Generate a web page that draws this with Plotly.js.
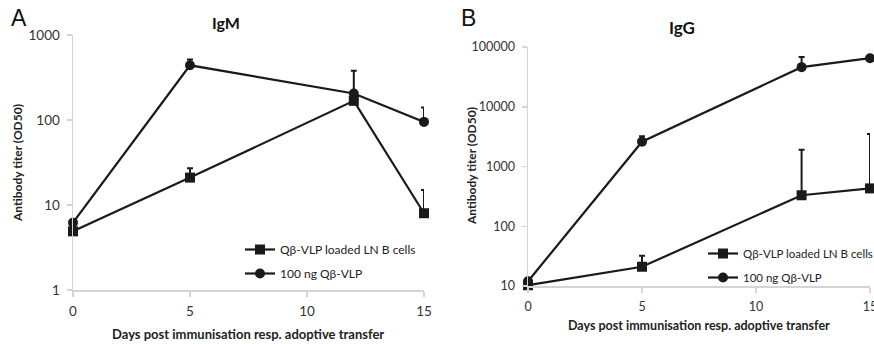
<!DOCTYPE html>
<html>
<head>
<meta charset="utf-8">
<script src="https://cdn.plot.ly/plotly-3.0.1.min.js"></script>
<style>html,body{margin:0;padding:0;background:#fff;overflow:hidden;width:874px;height:344px;}#chart{width:874px;height:344px;overflow:hidden;}</style>
</head>
<body>
<div id="chart"></div>
<script>
// Data
const days = [0, 5, 12, 15];
const seriesNames = ["Qβ-VLP loaded LN B cells", "100 ng Qβ-VLP"];
// IgM (panel A)
const igmBcells = [4.9, 21, 168, 8];
const igmBcellsErr = [0, 6, 0, 7];
const igmVlp = [6.2, 440, 205, 95];
const igmVlpErr = [0, 75, 175, 45];
// IgG (panel B)
const iggBcells = [10.3, 21, 330, 430];
const iggBcellsErr = [0, 11, 1570, 3070];
const iggVlp = [12, 2600, 46000, 65000];
const iggVlpErr = [0, 600, 22000, 0];
// Ticks
const xTicks = [0, 5, 10, 15];
const yTicksA = [1, 10, 100, 1000];
const yTicksB = [10, 100, 1000, 10000, 100000];

const ink = '#1a1a1a';
const axisGrey = '#d4d4d4';
const FONT = 'Lato, "Open Sans", sans-serif';

function trace(x, y, err, name, symbol, xa, ya, legend, group) {
  return {
    x: x, y: y, name: name, type: 'scatter', mode: 'lines+markers',
    xaxis: xa, yaxis: ya, legend: legend, legendgroup: group, cliponaxis: false,
    line: {color: ink, width: 2.2},
    marker: {symbol: symbol, size: 10, color: ink},
    error_y: {type: 'data', symmetric: false, array: err, arrayminus: err.map(() => 0),
              color: ink, thickness: 2, width: 3}
  };
}

const data = [
  trace(days, igmBcells, igmBcellsErr, seriesNames[0], 'square', 'x', 'y', 'legend', 'a1'),
  trace(days, igmVlp, igmVlpErr, seriesNames[1], 'circle', 'x', 'y', 'legend', 'a2'),
  trace(days, iggBcells, iggBcellsErr, seriesNames[0], 'square', 'x2', 'y2', 'legend2', 'b1'),
  trace(days, iggVlp, iggVlpErr, seriesNames[1], 'circle', 'x2', 'y2', 'legend2', 'b2')
];

function xAxis(domain, anchor, size) {
  return {
    domain: domain, anchor: anchor, range: [0, 15], tickvals: xTicks,
    automargin: false, ticklabeloverflow: 'allow',
    showline: true, linecolor: axisGrey, linewidth: 1.5,
    ticks: 'outside', ticklen: 5, tickcolor: axisGrey, tickwidth: 1.5,
    showgrid: false, zeroline: false, ticklabelstandoff: 3,
    tickfont: {family: FONT, size: size, color: '#333'}
  };
}
function yAxis(domain, anchor, range, vals, size) {
  return {
    domain: domain, anchor: anchor, type: 'log', range: range,
    tickvals: vals, ticktext: vals.map(String),
    automargin: false,
    showline: true, linecolor: axisGrey, linewidth: 1.5,
    ticks: 'outside', ticklen: 5, tickcolor: axisGrey, tickwidth: 1.5,
    showgrid: false, zeroline: false, ticklabelstandoff: 4,
    tickfont: {family: FONT, size: size, color: '#333'}
  };
}

const legendBase = {
  xanchor: 'left', yanchor: 'top', bgcolor: 'rgba(0,0,0,0)',
  traceorder: 'grouped', tracegroupgap: 5
};

const ann = (text, x, y, opts) => Object.assign({
  text: text, x: x, y: y, xref: 'paper', yref: 'paper',
  showarrow: false, xanchor: 'center', yanchor: 'middle'
}, opts);

const W = 874, H = 344;
const px = v => v / W, py = v => (H - v) / H;

const layout = {
  width: W, height: H, autosize: false,
  margin: {l: 0, r: 0, t: 0, b: 0, autoexpand: false},
  paper_bgcolor: '#fff', plot_bgcolor: '#fff',
  showlegend: true,
  xaxis: xAxis([px(73), px(424)], 'y', 13.5),
  yaxis: yAxis([py(290), py(35)], 'x', [0, 3], yTicksA, 13.5),
  xaxis2: xAxis([px(528), px(870)], 'y2', 12.5),
  yaxis2: yAxis([py(286), py(47)], 'x2', [1, 5], yTicksB, 12.5),
  legend: Object.assign({x: px(240), y: py(235), font: {family: FONT, size: 12, color: '#222'}}, legendBase),
  legend2: Object.assign({x: px(703), y: py(239), font: {family: FONT, size: 11.5, color: '#222'}}, legendBase),
  annotations: [
    ann('A', px(19), py(18), {font: {family: 'Liberation Sans, Arial, sans-serif', size: 23, color: '#111'}}),
    ann('B', px(468), py(18), {font: {family: 'Liberation Sans, Arial, sans-serif', size: 23, color: '#111'}}),
    ann('<b>IgM</b>', px(226), py(22), {font: {family: FONT, size: 16, color: '#111'}}),
    ann('<b>IgG</b>', px(682), py(27), {font: {family: FONT, size: 17, color: '#111'}}),
    ann('<b>Days post immunisation resp. adoptive transfer</b>', px(248), py(334), {font: {family: FONT, size: 13, color: '#222'}}),
    ann('<b>Days post immunisation resp. adoptive transfer</b>', px(699), py(325), {font: {family: FONT, size: 12.5, color: '#222'}}),
    ann('<b>Antibody titer (OD50)</b>', px(18), py(163), {textangle: -90, font: {family: FONT, size: 12, color: '#222'}}),
    ann('<b>Antibody titer (OD50)</b>', px(471), py(166), {textangle: -90, font: {family: FONT, size: 12, color: '#222'}})
  ]
};

Plotly.newPlot('chart', data, layout, {displayModeBar: false, staticPlot: true});
</script>
</body>
</html>
